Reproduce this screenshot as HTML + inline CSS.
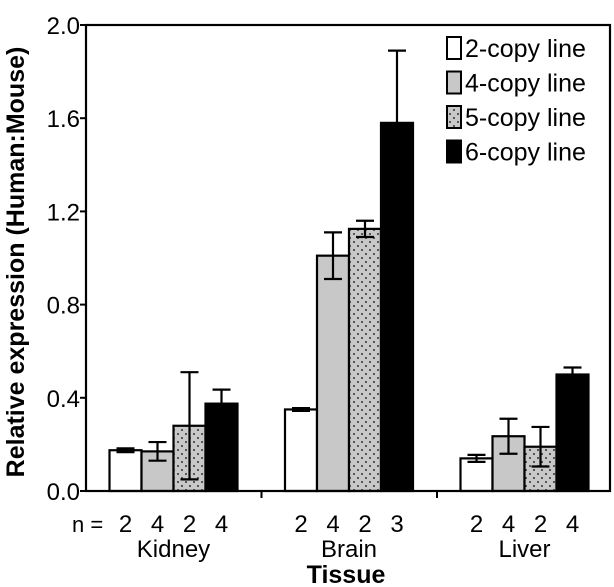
<!DOCTYPE html>
<html><head><meta charset="utf-8"><style>
body{margin:0;background:#fff}
svg{display:block;font-family:"Liberation Sans",Arial,sans-serif}
</style></head><body>
<svg id="chart" width="614" height="587" viewBox="0 0 614 587">
<defs>
<pattern id="dots" width="8" height="8" patternUnits="userSpaceOnUse">
<rect width="8" height="8" fill="#c8c8c8"/>
<circle cx="2" cy="2" r="1" fill="#333"/><circle cx="6" cy="6" r="1" fill="#333"/>
</pattern>
</defs>
<g id="plot"></g>
<text x="24" y="262" transform="rotate(-90 24 262)" text-anchor="middle" font-size="25" font-weight="bold">Relative expression (Human:Mouse)</text>
<text x="346" y="583" text-anchor="middle" font-size="25" font-weight="bold">Tissue</text>
</svg>
<script>
const categories = ["Kidney","Brain","Liver"];
const seriesNames = ["2-copy line","4-copy line","5-copy line","6-copy line"];
const seriesValues = [[0.175,0.35,0.14],[0.17,1.01,0.235],[0.28,1.125,0.19],[0.375,1.58,0.50]];
const seriesErrors = [[0.008,0.006,0.015],[0.04,0.10,0.075],[0.23,0.035,0.085],[0.06,0.31,0.03]];
const nCounts = [[2,2,2],[4,4,4],[2,2,2],[4,3,4]];
const yTicks = [0.0,0.4,0.8,1.2,1.6,2.0];
const fills = ["#fff","#c8c8c8","url(#dots)","#000"];
const NS="http://www.w3.org/2000/svg";
const g=document.getElementById('plot');
const X0=86,X1=610,Y0=491,Y1=25,GW=175.5,BW=32,OFF=23.5;
const y=v=>Y0-(v/2.0)*(Y0-Y1);
const barX=(c,s)=>X0+c*GW+OFF+s*BW;
function el(t,a,txt){const e=document.createElementNS(NS,t);for(const k in a)e.setAttribute(k,a[k]);if(txt!==undefined)e.textContent=txt;g.appendChild(e);return e;}
seriesValues.forEach((vals,s)=>{vals.forEach((v,c)=>{
 const r=el('rect',{x:barX(c,s),y:y(v),width:BW,height:Y0-y(v),fill:fills[s],stroke:'#000','stroke-width':2.2});
 
 
 const e=seriesErrors[s][c],cx=barX(c,s)+BW/2;
 const eb=el('path',{d:`M${cx},${y(v+e)}V${y(Math.max(0,v-e))}M${cx-9},${y(v+e)}H${cx+9}M${cx-9},${y(Math.max(0,v-e))}H${cx+9}`,stroke:'#000','stroke-width':2.2,fill:'none'});
 
 
 const t=el('text',{x:cx,y:532,'text-anchor':'middle','font-size':24},nCounts[s][c]);
 
 
});});
const fr=el('rect',{x:X0,y:Y1,width:X1-X0,height:Y0-Y1,fill:'none',stroke:'#000','stroke-width':2.2});


yTicks.forEach(v=>{
 el('line',{x1:X0-6,x2:X0,y1:y(v),y2:y(v),stroke:'#000','stroke-width':2});
 const t=el('text',{x:X0-6,y:y(v)+9,'text-anchor':'end','font-size':24},v.toFixed(1));
 
 
});
[1,2].forEach(i=>el('line',{x1:X0+i*GW,x2:X0+i*GW,y1:Y0,y2:Y0+7,stroke:'#000','stroke-width':2}));
categories.forEach((c,i)=>{
 const t=el('text',{x:X0+i*GW+OFF+2*BW,y:557,'text-anchor':'middle','font-size':24},c);
 
 
});
const nl=el('text',{x:72,y:532,'font-size':22},'n =');


seriesNames.forEach((n,i)=>{
 const yy=48+i*34.5;
 const b=el('rect',{x:447,y:yy-11,width:14,height:22,fill:fills[i],stroke:'#000','stroke-width':2});
 
 
 const t=el('text',{x:465,y:yy+9,'font-size':25},n);
 
 
});
</script>
</body></html>
